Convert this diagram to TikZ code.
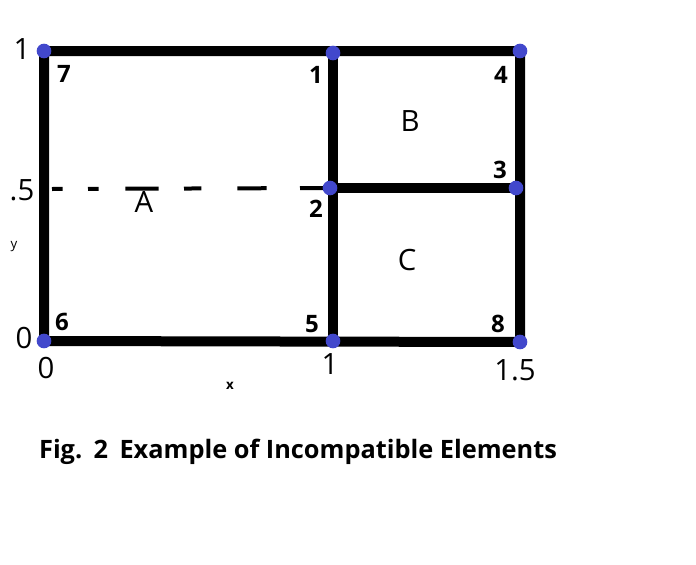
\documentclass[tikz,border=0pt]{standalone}
\usepackage{fontspec}
\setmainfont{Open Sans}
\usetikzlibrary{positioning}
\definecolor{dotblue}{RGB}{66,72,204}

\begin{document}
\begin{tikzpicture}[x=0.75pt,y=-0.75pt,
  edge/.style={line width=7.5pt,line join=miter},
  vert/.style={circle,fill=dotblue,inner sep=0pt,minimum size=11pt},
  num/.style={font=\fontsize{18}{18}\selectfont\bfseries},
  elem/.style={font=\fontsize{22}{22}\selectfont},
  tick/.style={font=\fontsize{22}{22}\selectfont}]
\useasboundingbox (0,0) rectangle (696,564);
% mesh corners
\coordinate (n7) at (44,51);
\coordinate (n1) at (333,53);
\coordinate (n4) at (520,51);
\coordinate (n2) at (330,188);
\coordinate (n3) at (516,188);
\coordinate (n6) at (44,341);
\coordinate (n5) at (333,341);
\coordinate (n8) at (520,342);
\coordinate (h) at (52,189);
% element edges
\draw[edge] (n7) -- (n4) -- (n8) -- (n6) -- cycle;
\draw[edge] (n1) -- (n5);
\draw[edge] (n2) -- (n3);
\draw[line width=3pt,dash pattern=on 8pt off 19pt on 8pt off 20pt on 25pt off 19pt on 13pt off 27pt on 22pt off 25pt on 22pt] (h) -- (n2);
% nodes
\foreach \v in {n1,n2,n3,n4,n5,n6,n7,n8}
  \node[vert] at (\v) {};
\node[num] at (64,74) {7};
\node[num] at (316,75) {1};
\node[num] at (501,75) {4};
\node[num] at (500,170) {3};
\node[num] at (316,209) {2};
\node[num] at (62,322) {6};
\node[num] at (312,324) {5};
\node[num] at (498,324) {8};
% element names
\node[elem] at (144,202) {A};
\node[elem] at (410,121) {B};
\node[elem] at (407,260) {C};
% axes
\node[tick] at (22,49) {1};
\node[tick] at (22,190) {.5};
\node[tick] at (24,338) {0};
\node[tick] at (46,368) {0};
\node[tick] at (330,364) {1};
\node[tick] at (515,370) {1.5};
\node[font=\fontsize{10}{10}\selectfont] at (14,247) {y};
\node[font=\fontsize{10}{10}\selectfont\bfseries] at (230,386) {x};
\node[font=\fontsize{19}{19}\selectfont\bfseries] (cap) at (298,452) {Fig.\hspace{0.45em}2\hspace{0.45em}Example of Incompatible Elements};
\end{tikzpicture}
\end{document}
